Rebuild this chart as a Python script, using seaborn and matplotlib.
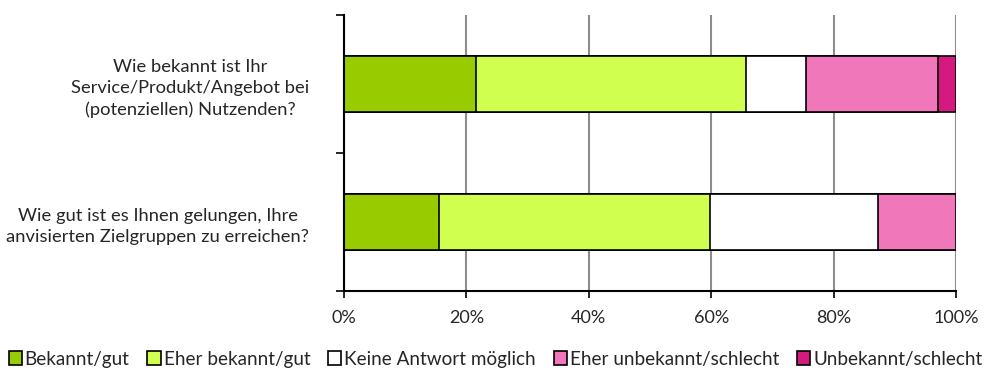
import matplotlib
matplotlib.use("Agg")
import matplotlib.pyplot as plt
import seaborn as sns
import pandas as pd
import numpy as np
from matplotlib.patches import Patch

sns.set_theme(style="white")
plt.rcParams["font.family"] = ["Lato", "DejaVu Sans"]

questions = [
    "Wie bekannt ist Ihr\nService/Produkt/Angebot bei\n(potenziellen) Nutzenden?",
    "Wie gut ist es Ihnen gelungen, Ihre\nanvisierten Zielgruppen zu erreichen?",
]
categories = ["Bekannt/gut", "Eher bekannt/gut", "Keine Antwort möglich",
              "Eher unbekannt/schlecht", "Unbekannt/schlecht"]
bekannt = [21.6, 15.6]
eher_bekannt = [44.1, 44.2]
keine_antwort = [9.8, 27.4]
eher_unbekannt = [21.6, 12.8]
unbekannt = [2.9, 0.0]
colors = ["#99CC00", "#D0FF4F", "#FFFFFF", "#F078BA", "#D6197F"]
xticks = [0, 20, 40, 60, 80, 100]
xtick_labels = ["0%", "20%", "40%", "60%", "80%", "100%"]

series = [bekannt, eher_bekannt, keine_antwort, eher_unbekannt, unbekannt]
cum = np.cumsum(np.array(series), axis=0)

fig = plt.figure(figsize=(9.91, 3.76), dpi=100)
ax = fig.add_axes([344 / 991, 85 / 376, 612 / 991, 276 / 376])

# stacked bars: draw cumulative totals from the outermost segment inwards
for i in range(len(series) - 1, -1, -1):
    df = pd.DataFrame({"frage": questions, "wert": cum[i]})
    sns.barplot(data=df, x="wert", y="frage", color=colors[i], ax=ax,
                orient="h", width=0.4, edgecolor="black", linewidth=1.2,
                saturation=1)

ax.set_xlim(0, 100)
ax.set_ylim(1.5, -0.5)
ax.set_xlabel("")
ax.set_ylabel("")

ax.set_xticks(xticks)
ax.set_xticklabels(xtick_labels, fontsize=13)
ax.xaxis.grid(True, color="#8c8c8c", linewidth=1.5)
ax.set_axisbelow(True)
ax.tick_params(axis="x", which="major", direction="out", length=5, width=1.2,
               color="black", bottom=True, pad=9)

ax.set_yticks([-0.5, 0.5, 1.5])
ax.set_yticklabels([])
ax.set_yticks([0, 1], minor=True)
ax.set_yticklabels(questions, minor=True, fontsize=13.2, multialignment="center",
                   linespacing=1.4)
ax.tick_params(axis="y", which="major", direction="out", length=6, width=1.2,
               color="black", left=True)
ax.tick_params(axis="y", which="minor", length=0, pad=25)

for s in ["top", "right"]:
    ax.spines[s].set_visible(False)
for s in ["left", "bottom"]:
    ax.spines[s].set_color("black")
    ax.spines[s].set_linewidth(1.5)

handles = [Patch(facecolor=c, edgecolor="black", linewidth=1.2) for c in colors]
fig.legend(handles, categories, loc="center", bbox_to_anchor=(0.5, 17 / 376),
           ncol=5, frameon=False, fontsize=13.6, handlelength=0.7,
           handleheight=0.7, handletextpad=0.15, columnspacing=0.95,
           borderaxespad=0)

fig.savefig("out.png", dpi=100)
